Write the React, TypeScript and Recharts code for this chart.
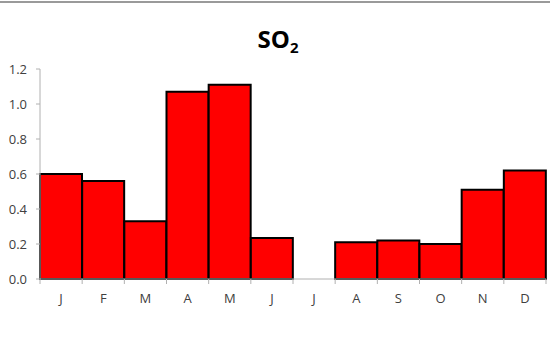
import { BarChart, Bar, XAxis, YAxis } from "recharts";

// monthly SO2 values (July missing)
const MONTHS = ["J", "F", "M", "A", "M", "J", "J", "A", "S", "O", "N", "D"];
const SO2 = [0.6, 0.56, 0.33, 1.07, 1.11, 0.235, null, 0.21, 0.22, 0.2, 0.51, 0.62];
const Y_TICKS = [0, 0.2, 0.4, 0.6, 0.8, 1.0, 1.2];
const EDGE_TICKS = [0, 1, 2, 3, 4, 5, 6, 7, 8, 9, 10, 11, 12];

const data = MONTHS.map((m, i) => ({ idx: i, month: m, value: SO2[i] }));

const FONT = "'Open Sans', Lato, sans-serif";

export default function App() {
  return (
    <div style={{ position: "absolute", left: 0, top: 0, width: 550, height: 342, background: "#fff" }}>
      {/* top border line from the source image */}
      <div style={{ position: "absolute", left: 0, top: 1, width: 550, height: 2, background: "#9a9a9a" }} />
      <div
        style={{
          position: "absolute",
          top: 22,
          left: 0,
          width: 556,
          textAlign: "center",
          fontFamily: FONT,
          fontWeight: 700,
          fontSize: 24,
          color: "#000",
        }}
      >
        SO<sub style={{ fontSize: 15, verticalAlign: "-5px" }}>2</sub>
      </div>
      <BarChart
        width={550}
        height={342}
        data={data}
        margin={{ top: 69, right: 4, left: 0, bottom: 33 }}
        barCategoryGap={0}
      >
        {/* tick marks sit on the month boundaries */}
        <XAxis
          xAxisId="a_edge"
          type="number"
          dataKey="idx"
          domain={[0, 12]}
          ticks={EDGE_TICKS}
          tickFormatter={() => ""}
          stroke="#b0b0b0"
          tickSize={5}
          height={5}
        />
        <XAxis
          xAxisId="b_cat"
          dataKey="month"
          axisLine={false}
          tickLine={false}
          tick={{ fill: "#404040", fontSize: 13, fontFamily: FONT }}
          tickMargin={4}
          height={25}
        />
        <YAxis
          domain={[0, 1.2]}
          ticks={Y_TICKS}
          tickFormatter={(v: number) => v.toFixed(1)}
          stroke="#b0b0b0"
          tickSize={4}
          tickMargin={9}
          width={40}
          tick={{ fill: "#404040", fontSize: 13, fontFamily: FONT }}
        />
        <Bar
          xAxisId="b_cat"
          dataKey="value"
          fill="#ff0000"
          stroke="#000"
          strokeWidth={2}
          isAnimationActive={false}
        />
      </BarChart>
    </div>
  );
}
